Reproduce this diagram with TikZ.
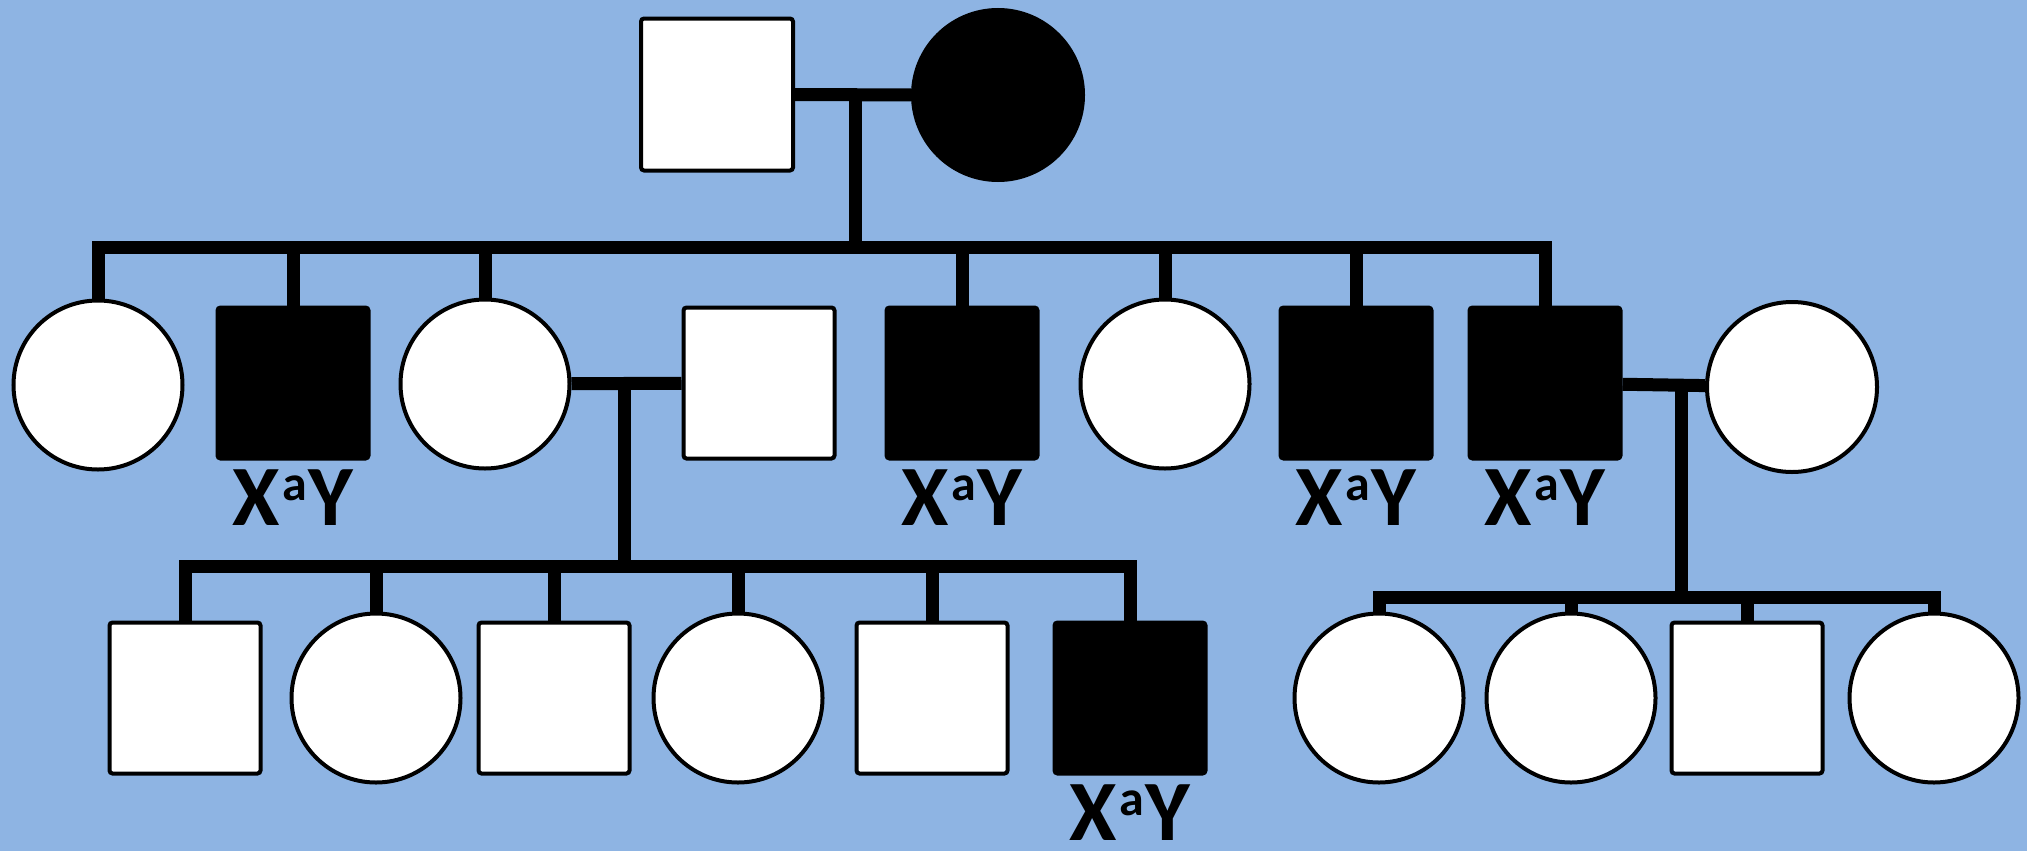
\documentclass[tikz,border=0pt]{standalone}
\usepackage{fontspec}
\setmainfont{Carlito}
\usetikzlibrary{positioning}
\definecolor{bgblue}{RGB}{142,180,227}

\begin{document}
\begin{tikzpicture}[
        x=0.5pt, y=-0.5pt,
        node distance=4.5pt,
        link/.style={line width=6.5pt},
        male/.style={
            draw,
            line width=2pt,
            rounded corners=1.5pt,
            fill=white,
            minimum size=75.5pt,
            inner sep=0pt
        },
        female/.style={
            draw,
            circle,
            line width=2pt,
            fill=white,
            minimum size=84.5pt,
            inner sep=0pt
        },
        aff/.style={fill=black},
        geno/.style={inner sep=0pt, font=\fontsize{43}{43}\selectfont\bfseries}
    ]
        \path[use as bounding box, fill=bgblue] (0,0) rectangle (2027,851);

        % generation I
        \node[male, minimum size=76pt] (i1) at (717,94.5) {};
        \node[female, aff, minimum size=85pt] (i2) at (998,95) {};

        % generation II
        \node[female] (ii1) at (98,385) {};
        \node[male, aff] (ii2) at (293,383) {};
        \node[female] (ii3) at (485,384) {};
        \node[male] (ii4) at (759,383) {};
        \node[male, aff] (ii5) at (962,383) {};
        \node[female] (ii6) at (1165,384) {};
        \node[male, aff] (ii7) at (1356,383) {};
        \node[male, aff] (ii8) at (1545,383) {};
        \node[female, minimum size=85pt] (ii9) at (1792,387) {};

        % generation III
        \node[male] (iii1) at (185,698) {};
        \node[female] (iii2) at (376,698) {};
        \node[male] (iii3) at (554,698) {};
        \node[female] (iii4) at (738,698) {};
        \node[male] (iii5) at (932,698) {};
        \node[male, aff] (iii6) at (1130,698) {};
        \node[female] (iii7) at (1379,698) {};
        \node[female] (iii8) at (1571,698) {};
        \node[male] (iii9) at (1747,698) {};
        \node[female] (iii10) at (1934,698) {};

        % genotypes
        \newcommand\xay{X\kern1pt\raisebox{12.5pt}{\fontsize{25}{25}\selectfont a}\kern1pt Y}
        \node[geno, below=of ii2] (g2) {\xay};
        \node[geno, below=of ii5] (g5) {\xay};
        \node[geno, below=of ii7] (g7) {\xay};
        \node[geno, below=of ii8] (g8) {\xay};
        \node[geno, below=4.5pt of iii6] (g36) {\xay};

        % matings and descent
        \coordinate (m1) at (855,94);
        \coordinate (d1) at (855,247);
        \coordinate (m2) at (624,384);
        \coordinate (d2) at (624,566);
        \coordinate (m3) at (1681,385);
        \coordinate (d3) at (1681,597);

        \draw[link] (i1) -- (i2);
        \draw[link] (m1) -- (d1);
        \draw[link] (ii1) |- (d1) -| (ii8);
        \foreach \c in {ii2,ii3,ii5,ii6,ii7}
            \draw[link] (\c) -- (\c |- d1);

        \draw[link] (ii3) -- (ii4);
        \draw[link] (m2) -- (d2);
        \draw[link] (iii1) |- (d2) -| (iii6);
        \foreach \c in {iii2,iii3,iii4,iii5}
            \draw[link] (\c) -- (\c |- d2);

        \draw[link] (ii8) -- (ii9);
        \draw[link] (m3) -- (d3);
        \draw[link] (iii7) |- (d3) -| (iii10);
        \foreach \c in {iii8,iii9}
            \draw[link] (\c) -- (\c |- d3);
    \end{tikzpicture}
\end{document}
